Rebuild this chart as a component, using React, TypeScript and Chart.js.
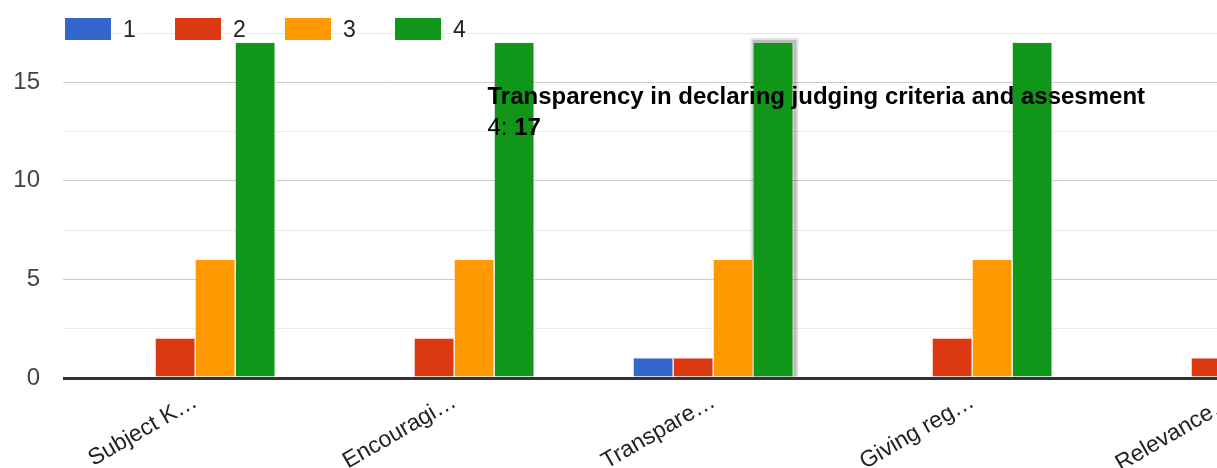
import React, { useEffect, useRef } from "react";
import { Chart, registerables } from "chart.js";

Chart.register(...registerables);

const categories = ["Subject K…", "Encouragi…", "Transpare…", "Giving reg…", "Relevance…"];
const seriesNames = ["1", "2", "3", "4"];
const series1 = [0, 0, 1, 0, 0];
const series2 = [2, 2, 1, 2, 1];
const series3 = [6, 6, 6, 6, 6];
const series4 = [17, 17, 17, 17, 17];
const seriesColors = ["#3366cc", "#dc3912", "#ff9900", "#109618"];

const tooltipTitle = "Transparency in declaring judging criteria and assesment";
const tooltipIndex = 2;
const tooltipSeries = 3;

const FONT = 'Arial, "Liberation Sans", sans-serif';

const overlayPlugin = {
  id: "overlay",
  beforeDatasetsDraw(chart: any) {
    const meta = chart.getDatasetMeta(tooltipSeries);
    const bar = meta.data[tooltipIndex];
    if (!bar) return;
    const { x, y, base, width } = bar.getProps(["x", "y", "base", "width"], true);
    const ctx = chart.ctx;
    ctx.save();
    ctx.fillStyle = "rgba(0,0,0,0.18)";
    ctx.fillRect(x - width / 2 - 1, y - 3, width + 4, base - y + 3);
    ctx.fillStyle = "rgba(0,0,0,0.10)";
    ctx.fillRect(x - width / 2 - 3, y - 5, width + 8, base - y + 5);
    ctx.restore();
  },
  afterDraw(chart: any) {
    const ctx = chart.ctx;
    const ds = chart.data.datasets;
    ctx.save();
    // legend
    const legLeft = 65;
    const legTop = 18;
    ds.forEach((d: any, i: number) => {
      const bx = legLeft + i * 110;
      ctx.fillStyle = d.backgroundColor;
      ctx.fillRect(bx, legTop, 46, 22);
      ctx.font = `23px ${FONT}`;
      const tw = ctx.measureText(d.label).width;
      ctx.fillStyle = "#fff";
      ctx.fillRect(bx + 57, legTop, tw + 2, 22);
      ctx.fillStyle = "#222";
      ctx.textBaseline = "alphabetic";
      ctx.textAlign = "left";
      ctx.fillText(d.label, bx + 58, legTop + 19);
    });
    // tooltip text
    const xs = chart.scales.x;
    const ys = chart.scales.y;
    const tx = xs.getPixelForValue(tooltipIndex) - 226;
    const ty = ys.getPixelForValue(15) + 22;
    ctx.fillStyle = "#000";
    ctx.font = `bold 24px ${FONT}`;
    ctx.fillText(tooltipTitle, tx, ty);
    ctx.font = `24px ${FONT}`;
    const pre = seriesNames[tooltipSeries] + ": ";
    ctx.fillText(pre, tx, ty + 31);
    const pw = ctx.measureText(pre).width;
    ctx.font = `bold 24px ${FONT}`;
    ctx.fillText(String(ds[tooltipSeries].data[tooltipIndex]), tx + pw, ty + 31);
    ctx.restore();
  },
};

export default function App() {
  const ref = useRef<HTMLCanvasElement>(null);
  useEffect(() => {
    if (!ref.current) return;
    const data = [series1, series2, series3, series4];
    const chart = new Chart(ref.current, {
      type: "bar",
      data: {
        labels: categories,
        datasets: seriesNames.map((n, i) => ({
          label: n,
          data: data[i],
          backgroundColor: seriesColors[i],
          borderColor: "#ffffff",
          borderWidth: { top: 0, left: 0, bottom: 0, right: 1 },
          borderSkipped: false,
          barPercentage: 1,
          categoryPercentage: 0.618,
        })),
      },
      options: {
        animation: false,
        responsive: false,
        devicePixelRatio: 1,
        layout: { padding: { top: 33, right: 9, left: 0, bottom: 0 } },
        plugins: { legend: { display: false }, tooltip: { enabled: false } },
        events: [],
        scales: {
          x: {
            offset: true,
            grid: { display: false, drawTicks: false },
            border: { display: false },
            ticks: {
              minRotation: 30,
              maxRotation: 30,
              autoSkip: false,
              padding: 10,
              color: "#222",
              font: { size: 23, family: FONT },
            },
            afterFit: (s: any) => {
              s.height = 90;
            },
          },
          y: {
            min: 0,
            max: 17.5,
            border: { display: false },
            ticks: {
              stepSize: 2.5,
              padding: 23,
              color: "#444",
              font: { size: 24, family: FONT },
              callback: (v: any) => (Number(v) % 5 === 0 ? String(v) : ""),
            },
            grid: {
              drawTicks: true,
              tickLength: 3,
              color: (c: any) =>
                c.tick && c.tick.value === 0 ? "#333" : c.tick && c.tick.value % 5 === 0 ? "#cccccc" : "#ebebeb",
              lineWidth: (c: any) => (c.tick && c.tick.value === 0 ? 3 : 1),
            },
            afterFit: (s: any) => {
              s.width = 66;
              s.paddingTop = 0;
              s.paddingBottom = 0;
            },
          },
        },
      },
      plugins: [overlayPlugin],
    });
    return () => chart.destroy();
  }, []);
  return (
    <div style={{ position: "fixed", left: 0, top: 0, width: "100vw", height: "100vh", overflow: "hidden", background: "#fff" }}>
      <canvas ref={ref} width={1370} height={468} style={{ display: "block", width: 1370, height: 468 }} />
    </div>
  );
}
